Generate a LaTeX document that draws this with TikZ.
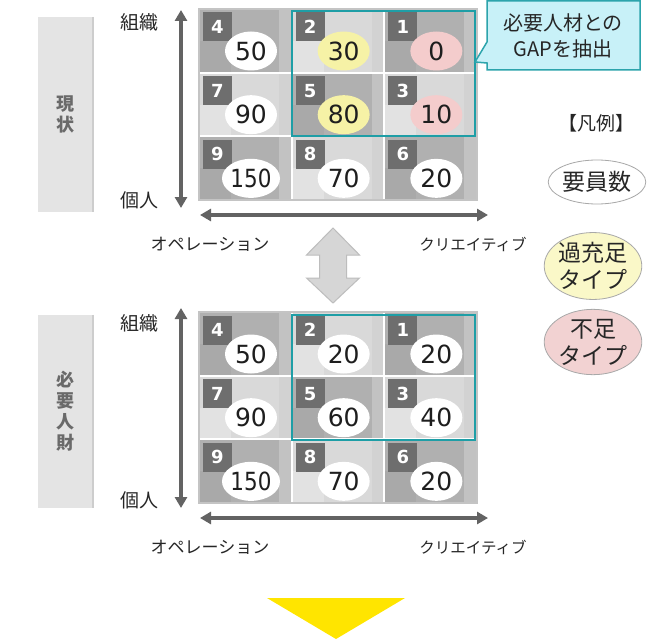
\documentclass[tikz,border=0pt]{standalone}
\usepackage{fontspec}
\usepackage{graphicx}
\setmainfont{DejaVu Sans}
\newfontfamily\jp{Noto Sans CJK JP}
\usetikzlibrary{arrows.meta,shapes.geometric}
\definecolor{cellD}{HTML}{B0B0B0}
\definecolor{cellDb}{HTML}{A9A9A9}
\definecolor{cellDs}{HTML}{C2C2C2}
\definecolor{cellL}{HTML}{D9D9D9}
\definecolor{cellLb}{HTML}{E2E2E2}
\definecolor{cellLs}{HTML}{D2D2D2}
\definecolor{lblgray}{HTML}{6E6E6E}
\definecolor{numtxt}{HTML}{1E1E1E}
\definecolor{yel}{HTML}{F6F2A6}
\definecolor{pnk}{HTML}{F4CCCC}
\definecolor{tealbox}{HTML}{1E9EA6}
\definecolor{callfill}{HTML}{C8F1F8}
\definecolor{callline}{HTML}{2CA4AC}
\definecolor{axisgray}{HTML}{636363}
\definecolor{txt}{HTML}{262626}
\definecolor{sidegray}{HTML}{E4E4E4}
\definecolor{sideshadow}{HTML}{CDCDCD}
\definecolor{sidetxt}{HTML}{6A6A6A}
\definecolor{framec}{HTML}{C4C4C4}
\definecolor{dblfill}{HTML}{D6D6D6}
\definecolor{dblline}{HTML}{BDBDBD}
\definecolor{arrowyel}{HTML}{FFE500}
\definecolor{leggray}{HTML}{A8A8A8}
\definecolor{legyel}{HTML}{FAF8C8}
\definecolor{legpnk}{HTML}{F2D2D2}
\tikzset{
  numell/.style={ellipse, inner sep=0pt, minimum width=52pt, minimum height=39pt,
    font=\fontsize{25}{25}\selectfont, text=numtxt},
  lblsq/.style={rectangle, fill=lblgray, minimum size=29pt, inner sep=0pt,
    text=white, font=\bfseries\fontsize{18}{18}\selectfont},
  axis/.style={draw=axisgray, line width=3.2pt,
    {Triangle[length=11pt,width=12pt]}-{Triangle[length=11pt,width=12pt]}},
  jptext/.style={font=\jp\fontsize{17}{17}\selectfont, text=txt, inner sep=0pt},
  axlbl/.style={font=\jp\fontsize{19}{19}\selectfont, text=txt, inner sep=0pt},
  sidebox/.style={rectangle, fill=sidegray, minimum width=55pt, inner sep=0pt,
    text=sidetxt, font=\jp\bfseries\fontsize{18}{21}\selectfont, align=center},
  legell/.style={ellipse, draw=leggray, line width=0.8pt, inner sep=0pt,
    font=\jp\fontsize{23}{27}\selectfont, align=center, text=txt},
}
\newcommand{\skillgrid}[2]{%
  \foreach \c/\r/\l/\v/\f/\b in {#2} {
    \pgfmathsetmacro{\xl}{199+\c*92.67}
    \pgfmathsetmacro{\yt}{9+\r*63.67}
    \fill[\b] (\xl,\yt) rectangle ({\xl+92.67},{\yt+63.67});
    \fill[\b b] (\xl,{\yt+32}) rectangle ({\xl+32},{\yt+63.67});
    \fill[\b s] ({\xl+80},\yt) rectangle ({\xl+92.67},{\yt+63.67});
    \node[lblsq] (#1-s\l) at ({\xl+18.5},{\yt+18}) {\l};
    \node[numell, fill=\f] (#1-\l) at ({\xl+52},{\yt+42})
      {\ifnum\v>99 \scalebox{0.86}[1]{\v}\else\v\fi};
  }
  \draw[white, line width=2pt] (291.67,9) -- (291.67,200) (384.33,9) -- (384.33,200)
    (199,72.67) -- (477,72.67) (199,136.33) -- (477,136.33);
  \draw[framec, line width=1.5pt] (199,9) rectangle (477,200);
  \draw[tealbox, line width=2pt] (291.5,11.5) rectangle (475,136.5);
}
\begin{document}
\begin{tikzpicture}[x=1pt,y=-1pt]
\useasboundingbox (0,0) rectangle (660,639);
\fill[white] (0,0) rectangle (660,639);

% ---------- top (current) ----------
\skillgrid{t}{0/0/4/50/white/cellD, 1/0/2/30/yel/cellL, 2/0/1/0/pnk/cellD,
  0/1/7/90/white/cellL, 1/1/5/80/yel/cellD, 2/1/3/10/pnk/cellL,
  0/2/9/150/white/cellD, 1/2/8/70/white/cellL, 2/2/6/20/white/cellD}

\node[sidebox, minimum height=195pt] (side1) at (65.5,114.5) {現\\状};
\draw[sideshadow, line width=1.5pt] (side1.north east) -- (side1.south east);

\coordinate (tv1) at (181,10);
\coordinate (tv2) at (181,208);
\draw[axis] (tv1) -- (tv2);
\coordinate (th1) at (200,215);
\coordinate (th2) at (488,215);
\draw[axis] (th1) -- (th2);
\node[axlbl] (torg) at (139,22) {組織};
\node[axlbl] (tind) at (139,200) {個人};
\node[jptext] (tope) at (210,244) {オペレーション};
\node[jptext, font=\jp\fontsize{15.5}{15.5}\selectfont] (tcre) at (473,244) {クリエイティブ};

% callout
\draw[callline, fill=callfill, line width=1.5pt]
  (487,1) -- (640,1) -- (640,70) -- (487,70) -- (487,63) -- (475,62) -- (487,42) -- cycle;
\node[font=\jp\fontsize{20}{26}\selectfont, align=center, text=txt, inner sep=0pt]
  (callout) at (563,36) {必要人材との\\GAPを抽出};

% double arrow
\draw[dblline, fill=dblfill, line width=1pt]
  (333,228) -- (359.5,255) -- (346.5,255) -- (346.5,278) -- (359.5,278) -- (333,303)
  -- (306.5,278) -- (319.5,278) -- (319.5,255) -- (306.5,255) -- cycle;

% legend
\node[font=\jp\fontsize{19}{19}\selectfont, text=txt, inner sep=0pt] (legt) at (596,123) {【凡例】};
\node[legell, fill=white, minimum width=90pt, minimum height=44pt] (leg1) at (597,182) {要員数};
\node[legell, fill=legyel, minimum width=82pt, minimum height=60pt] (leg2) at (593,266) {過充足\\タイプ};
\node[legell, fill=legpnk, minimum width=80pt, minimum height=60pt] (leg3) at (593,342) {不足\\タイプ};

% ---------- bottom (required) ----------
\begin{scope}[shift={(0,303)}]
\skillgrid{b}{0/0/4/50/white/cellD, 1/0/2/20/white/cellL, 2/0/1/20/white/cellD,
  0/1/7/90/white/cellL, 1/1/5/60/white/cellD, 2/1/3/40/white/cellL,
  0/2/9/150/white/cellD, 1/2/8/70/white/cellL, 2/2/6/20/white/cellD}
\end{scope}

\node[sidebox, minimum height=193pt] (side2) at (65.5,411.5) {必\\要\\人\\財};
\draw[sideshadow, line width=1.5pt] (side2.north east) -- (side2.south east);

\coordinate (bv1) at (181,308);
\coordinate (bv2) at (181,508);
\draw[axis] (bv1) -- (bv2);
\coordinate (bh1) at (200,518);
\coordinate (bh2) at (488,518);
\draw[axis] (bh1) -- (bh2);
\node[axlbl] (borg) at (139,323) {組織};
\node[axlbl] (bind) at (139,500) {個人};
\node[jptext] (bope) at (210,547) {オペレーション};
\node[jptext, font=\jp\fontsize{15.5}{15.5}\selectfont] (bcre) at (473,547) {クリエイティブ};

% yellow arrow
\fill[arrowyel] (267,598) -- (405,598) -- (336,639) -- cycle;
\end{tikzpicture}
\end{document}
